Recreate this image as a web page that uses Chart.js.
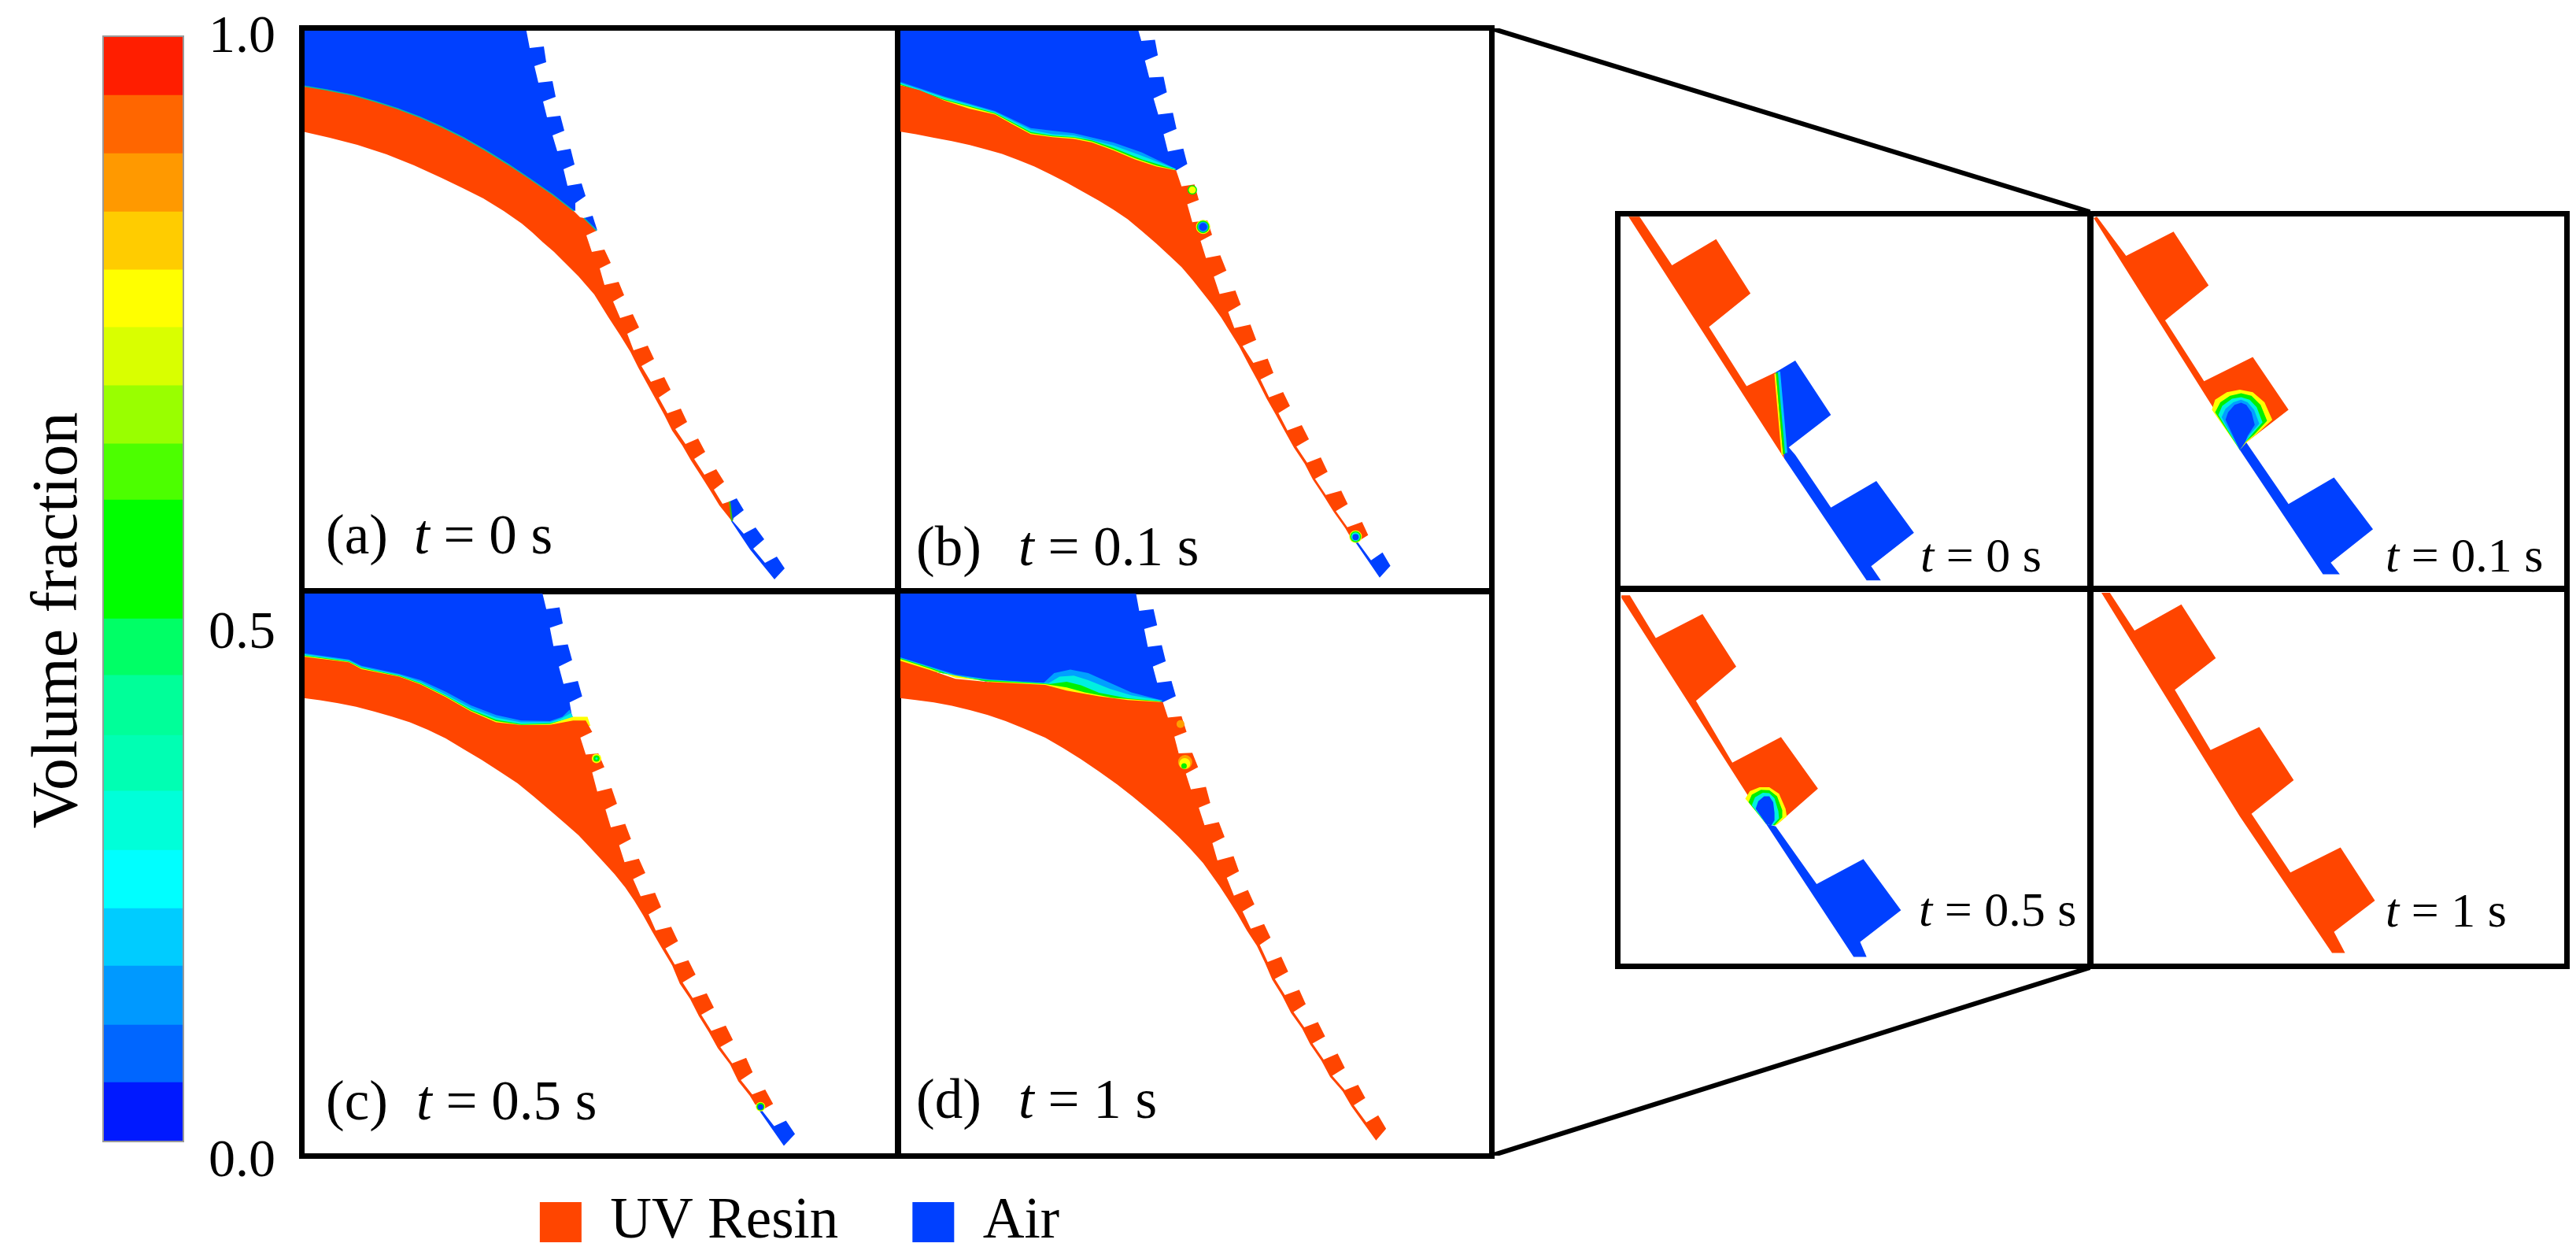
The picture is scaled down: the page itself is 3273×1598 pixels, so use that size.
<!DOCTYPE html>
<html>
<head>
<meta charset="utf-8">
<title>Volume fraction</title>
<script src="https://cdn.jsdelivr.net/npm/chart.js@4"></script>
<style>
  html, body { margin: 0; padding: 0; background: #fff; width: 3273px; height: 1598px; overflow: hidden; }
  canvas { position: absolute; }
  canvas.framed { outline: 7px solid #000; outline-offset: -3.5px; }
</style>
</head>
<body>
<script>
const RESIN = '#FF4500', AIR = '#0040FF';
const LIGHTBLUE = '#00A0FF', CYAN = '#00F0E0', GREEN = '#00F000', YELLOW = '#FFFF00', ORANGE = '#FFA000';
const SERIF = '"Liberation Serif", "Times New Roman", serif';

// Colour bar
const bandEdges = [0, .0534, .1054, .1588, .2108, .2635, .3170, .3675, .4217, .4729, .5264, .5805, .6311, .6838, .7365, .7885, .8412, .8939, .9466, 1];
const bandColors = ['#0019FF', '#0066FF', '#0099FF', '#00CCFF', '#00FFFF', '#00FFD9', '#00FFB3', '#00FF99', '#00FF66', '#00FF00',
  '#00FF00', '#4CFF00', '#99FF00', '#D9FF00', '#FFFF00', '#FFCC00', '#FF9900', '#FF6600', '#FF1E00'];
const tickValues = [0, 0.5, 1];
const tickLabels = ['0.0', '0.5', '1.0'];
const tickNudge = [44, 75, 20]; // labels sit off their level in the figure

// Legend
const legendNames = ['UV Resin', 'Air'];
const legendColors = [RESIN, AIR];

// Zoom connector lines
const connectorTop = [[0, 0], [1, 0.163]];
const connectorBottom = [[0, 1], [1, 0.833]];

// Panel labels
const panelTags = ['(a)', '(b)', '(c)', '(d)'];
const panelTimes = ['0', '0.1', '0.5', '1'];
const insetTimes = ['0', '0.1', '0.5', '1'];

// Panel (a), outlines read in panel pixels
const aAir = [[0,0],[284,0],[285,4],[289,25],[307,23],[310,43],[295,48],[300,69],[318,67],[322,87],[306,93],[311,113],[328,111],[333,130],[318,136],[324,156],[341,153],[346,173],[332,179],[337,200],[355,197],[360,213],[347,222],[347,232],[300,215],[233,170],[121,120],[0,90]];
const aAirTooth = [[358,241],[369,238],[375,257]];
const aResin = [[0,73],[30,78],[65,85],[93,93],[121,102],[150,113],[177,125],[205,139],[233,155],[262,173],[289,191],[318,211],[345,232],[353,240],[358,241],[374,257],[361,263],[368,284],[384,281],[392,298],[378,305],[384,326],[402,322],[409,339],[395,347],[404,368],[420,363],[428,380],[413,388],[421,409],[439,403],[447,420],[431,429],[443,449],[460,443],[468,459],[453,469],[464,489],[481,483],[489,500],[474,509],[487,528],[503,521],[512,538],[498,547],[511,567],[526,560],[536,576],[523,586],[534,604],[543,601],[546,626],[530,606],[519,588],[507,569],[494,549],[483,530],[470,511],[460,491],[449,471],[438,451],[427,431],[417,411],[404,390],[389,367],[371,338],[351,315],[333,297],[320,284],[306,272],[292,259],[279,248],[256,232],[230,216],[204,203],[177,190],[142,174],[107,160],[70,148],[35,139],[0,131]];
const aAirEnd = [[543,601],[552,597],[561,612],[548,622],[547,626],[548,627],[561,642],[576,634],[587,649],[573,661],[588,679],[603,671],[613,686],[600,700],[569,662],[545,626]];
const aLine = [[0,73],[30,78],[65,85],[93,93],[121,102],[150,113],[177,125],[205,139],[233,155],[262,173],[289,191],[318,211],[345,232]];
const aLine2 = [[358,241],[374,257]];
const aLine3 = [[543,601],[546,626]];

// Panel (b), outlines in grid units
const bAir = [[0,0],[668,0],[678,35],[716,32],[724,75],[688,90],[700,137],[740,135],[749,178],[712,195],[725,240],[766,235],[776,280],[740,295],[752,343],[795,335],[806,378],[775,396],[700,400],[400,330],[0,170]];
const bLightBlue = [[0,147],[130,190],[270,230],[370,278],[490,292],[600,318],[680,346],[775,392],[700,400],[400,330],[0,170]];
const bCyan = [[0,150],[130,193],[270,233],[370,283],[430,295],[490,298],[600,326],[680,355],[775,392],[700,400],[400,330],[0,170]];
const bGreen = [[0,153],[130,198],[270,236],[370,289],[430,299],[490,303],[540,312],[600,333],[680,365],[775,394],[700,400],[400,330],[0,170]];
const bYellow = [[0,155],[130,200],[270,238],[370,292],[430,301],[490,305],[540,315],[600,337],[660,362],[720,382],[775,395],[700,400],[400,330],[0,170]];
const bResin = [[0,157],[60,172],[130,202],[200,224],[270,240],[320,268],[370,295],[430,303],[490,308],[540,318],[600,340],[660,365],[720,385],[775,396],[790,440],[826,435],[838,478],[806,490],[820,540],[862,535],[875,575],[843,592],[858,640],[898,632],[915,675],[880,692],[896,740],[940,730],[955,770],[920,790],[937,835],[982,825],[998,868],[960,885],[990,932],[1030,920],[1046,960],[1010,978],[1034,1028],[1073,1013],[1092,1052],[1060,1072],[1085,1120],[1125,1105],[1145,1145],[1110,1165],[1140,1210],[1178,1195],[1197,1235],[1162,1255],[1192,1300],[1235,1288],[1253,1325],[1220,1345],[1252,1390],[1293,1375],[1310,1412],[1283,1428],[1265,1425],[1246,1392],[1214,1347],[1186,1302],[1156,1257],[1133,1213],[1103,1168],[1078,1123],[1052,1075],[1027,1031],[1002,982],[978,938],[950,885],[925,845],[900,805],[875,770],[850,738],[820,700],[790,665],[755,632],[720,600],[680,565],[640,532],[600,505],[560,480],[515,455],[470,430],[425,407],[380,385],[335,367],[290,350],[245,337],[200,325],[150,314],[100,305],[50,295],[0,287]];
const bAirEnd = [[1268,1422],[1280,1430],[1318,1482],[1350,1460],[1372,1497],[1342,1530]];

// Panel (c), outlines in grid units
const cAir = [[0,0],[668,0],[680,50],[717,45],[726,90],[690,102],[700,153],[740,148],[752,192],[715,210],[728,258],[768,250],[780,293],[745,310],[752,350],[690,395],[400,350],[0,200]];
const cLightBlue = [[0,172],[130,190],[165,208],[270,230],[330,248],[400,280],[470,318],[540,345],[610,360],[690,362],[725,350],[745,330],[755,352],[690,395],[400,350],[0,200]];
const cCyan = [[0,175],[130,193],[165,211],[270,233],[330,253],[400,288],[470,325],[540,352],[610,365],[690,365],[720,355],[748,340],[755,352],[690,395],[400,350],[0,200]];
const cGreen = [[0,178],[130,195],[165,213],[270,235],[330,256],[400,291],[470,330],[540,358],[610,370],[690,368],[755,352],[690,395],[400,350],[0,200]];
const cYellow = [[0,180],[130,197],[165,215],[270,237],[330,258],[400,293],[470,333],[540,362],[610,372],[690,370],[755,350],[795,350],[803,375],[690,395],[400,350],[0,200]];
const cResin = [[0,182],[130,198],[165,217],[270,238],[330,260],[400,295],[470,335],[540,365],[610,373],[690,372],[755,360],[790,360],[808,392],[775,408],[790,455],[825,452],[842,490],[808,505],[822,558],[862,548],[877,592],[845,608],[860,658],[900,648],[916,690],[883,708],[898,755],[938,745],[956,785],[922,802],[943,850],[983,840],[1000,880],[965,900],[985,945],[1028,935],[1047,975],[1012,995],[1038,1040],[1076,1028],[1096,1068],[1060,1090],[1088,1133],[1127,1120],[1147,1160],[1112,1180],[1140,1225],[1180,1210],[1200,1250],[1165,1270],[1198,1315],[1237,1300],[1255,1340],[1222,1362],[1254,1402],[1290,1388],[1312,1428],[1290,1440],[1262,1430],[1247,1405],[1215,1365],[1192,1318],[1158,1273],[1133,1228],[1105,1183],[1081,1136],[1052,1093],[1031,1043],[1004,998],[975,948],[950,903],[925,862],[900,825],[870,788],[840,755],[805,717],[770,680],[730,645],[690,610],[645,572],[600,535],[550,502],[500,470],[450,440],[400,410],[350,386],[300,365],[250,349],[200,335],[150,322],[100,312],[50,304],[0,297]];
const cAirEnd = [[1268,1430],[1315,1490],[1348,1475],[1373,1512],[1342,1545],[1265,1435]];

// Panel (d), outlines in grid units
const dAir = [[0,0],[662,0],[672,55],[712,50],[722,95],[686,105],[696,155],[735,150],[746,195],[710,210],[722,255],[762,250],[774,292],[738,309],[640,320],[400,280],[0,205]];
const dLightBlue = [[0,182],[90,210],[160,232],[250,245],[405,256],[435,228],[480,218],[530,228],[590,255],[650,282],[738,305],[640,320],[400,280],[0,205]];
const dCyan = [[0,184],[90,212],[160,235],[250,247],[420,256],[450,238],[490,235],[530,248],[590,272],[650,290],[738,305],[640,320],[400,280],[0,205]];
const dGreen = [[0,185],[90,213],[160,238],[250,248],[425,258],[470,252],[510,262],[560,283],[640,298],[738,307],[640,320],[400,280],[0,205]];
const dYellow = [[0,187],[90,216],[160,241],[250,251],[410,259],[470,268],[520,282],[600,297],[738,308],[640,320],[400,280],[0,205]];
const dResin = [[0,192],[90,220],[160,244],[250,253],[410,261],[470,277],[560,293],[640,303],[738,309],[752,352],[790,348],[804,392],[770,405],[782,452],[820,450],[836,490],[802,508],[816,552],[858,545],[870,590],[838,603],[854,652],[894,643],[910,685],[876,702],[890,750],[935,738],[950,780],[916,798],[936,848],[975,832],[993,872],[960,892],[983,940],[1020,927],[1038,965],[1008,985],[1030,1033],[1068,1018],[1087,1060],[1050,1080],[1078,1125],[1118,1110],[1136,1150],[1102,1172],[1132,1215],[1170,1200],[1190,1240],[1155,1260],[1186,1305],[1225,1288],[1245,1328],[1210,1350],[1245,1390],[1282,1375],[1302,1412],[1270,1432],[1305,1480],[1338,1460],[1360,1497],[1332,1530],[1298,1483],[1264,1436],[1239,1393],[1204,1353],[1180,1308],[1149,1263],[1126,1218],[1095,1175],[1071,1128],[1043,1083],[1023,1036],[1000,988],[972,945],[945,898],[918,855],[895,820],[870,785],[850,757],[815,718],[780,682],[740,645],[700,610],[655,573],[610,538],[560,502],[510,468],[460,437],[410,408],[350,382],[300,362],[250,345],[200,331],[150,319],[100,310],[50,303],[0,297]];

// Small trapped bubbles: x, y, radius in px
const bBubbles = [
  [[820,450,6,GREEN],[820,450,4.5,YELLOW]],
  [[850,553,9,YELLOW],[850,553,8,GREEN],[850,553,6.5,LIGHTBLUE],[850,553,5,AIR]],
  [[1275,1416,8,YELLOW],[1275,1416,7,GREEN],[1275,1416,5.5,CYAN],[1275,1417,4,AIR]]
];
const cBubbles = [
  [[820,466,6,YELLOW],[820,466,4,GREEN],[820,466,1.5,CYAN]],
  [[1277,1436,6,YELLOW],[1277,1436,5,GREEN],[1277,1437,3.5,AIR]]
];
const dBubbles = [
  [[787,370,5,ORANGE]],
  [[800,476,9,ORANGE],[799,480,7,YELLOW],[797,487,3.5,GREEN]]
];

// Inset panels, outlines in one shared grid
const i1Resin = [[108,55],[125,55],[175,152],[243,100],[296,208],[232,275],[290,393],[335,365],[345,490],[348,537]];
const i1Air = [[335,365],[365,342],[420,450],[355,515],[365,530],[420,635],[490,582],[548,685],[482,752],[497,780],[475,780],[348,537],[345,490]];
const i1Yellow = [[334,368],[345,530]];
const i1Green = [[337,366],[348,528]];
const i1Cyan = [[340,364],[351,526]];
const i2Resin = [[830,55],[875,133],[948,85],[1002,192],[935,262],[995,383],[1070,335],[1125,440],[1060,505],[1050,520],[825,58]];
const i2Air = [[1050,520],[1060,505],[1125,628],[1195,575],[1255,678],[1190,745],[1204,768],[1178,768]];
const i2Yellow = [[1007,440],[1012,420],[1030,405],[1050,400],[1070,405],[1088,425],[1100,460],[1075,490],[1060,505],[1050,520]];
const i2Green = [[1012,445],[1020,425],[1035,412],[1052,407],[1068,412],[1082,430],[1092,462],[1072,490],[1058,505],[1050,520]];
const i2Cyan = [[1017,450],[1023,432],[1038,418],[1052,415],[1065,420],[1076,435],[1085,465],[1070,487],[1058,505],[1050,520]];
const i2LightBlue = [[1022,455],[1028,438],[1040,425],[1052,420],[1062,425],[1072,440],[1080,468],[1065,490],[1058,505],[1050,520]];
const i2Blue = [[1028,460],[1032,445],[1042,430],[1052,426],[1060,430],[1068,445],[1073,470],[1062,492],[1058,505],[1050,520]];
const i3Resin = [[97,810],[110,810],[150,895],[222,847],[274,952],[212,1020],[268,1143],[343,1092],[400,1195],[338,1265],[320,1265],[97,815]];
const i3Air = [[320,1265],[335,1270],[398,1385],[470,1335],[528,1437],[465,1500],[475,1530],[455,1530]];
const i3Yellow = [[288,1215],[295,1200],[310,1192],[325,1192],[340,1205],[350,1235],[352,1250],[335,1268],[320,1265]];
const i3Green = [[293,1222],[298,1207],[312,1197],[325,1198],[337,1210],[345,1238],[345,1252],[333,1268],[320,1265]];
const i3Cyan = [[298,1228],[303,1212],[315,1203],[325,1204],[333,1214],[339,1240],[340,1254],[330,1268],[320,1265]];
const i3Blue = [[304,1235],[308,1220],[317,1210],[325,1210],[331,1222],[333,1243],[333,1258],[328,1268],[320,1265]];
const i4Resin = [[837,805],[850,805],[888,880],[960,828],[1013,935],[950,998],[1005,1118],[1080,1072],[1133,1178],[1068,1245],[1128,1362],[1205,1312],[1258,1418],[1195,1480],[1212,1522],[1192,1522],[1050,1250]];

const toXY = pts => pts.map(p => ({ x: p[0], y: p[1] }));

function shape(pts, color) {
  return { data: toXY(pts), showLine: true, fill: 'shape', tension: 0, backgroundColor: color, borderWidth: 0, pointRadius: 0 };
}
function trace(pts, color, width) {
  return { data: toXY(pts), showLine: true, fill: false, tension: 0, borderColor: color, borderWidth: width, pointRadius: 0 };
}
function bubble(b) {
  return { data: [{ x: b[0], y: b[1] }], showLine: false, pointRadius: b[2], pointBackgroundColor: b[3], pointBorderWidth: 0 };
}

function addCanvas(box, framed) {
  const c = document.createElement('canvas');
  c.width = box[2]; c.height = box[3];
  c.style.left = box[0] + 'px'; c.style.top = box[1] + 'px';
  c.style.width = box[2] + 'px'; c.style.height = box[3] + 'px';
  if (framed) c.className = 'framed';
  document.body.appendChild(c);
  return c;
}

// Mixed upright/italic label written on the panel canvas
function timeLabel(tag, tagX, tX, y, time, size) {
  return {
    id: 'timeLabel',
    afterDraw(chart) {
      const ctx = chart.ctx;
      ctx.save();
      ctx.fillStyle = '#000';
      ctx.textBaseline = 'alphabetic';
      ctx.font = size + 'px ' + SERIF;
      if (tag) ctx.fillText(tag, tagX, y);
      ctx.font = 'italic ' + size + 'px ' + SERIF;
      ctx.fillText('t', tX, y);
      const w = ctx.measureText('t').width;
      ctx.font = size + 'px ' + SERIF;
      ctx.fillText(' = ' + time + ' s', tX + w, y);
      ctx.restore();
    }
  };
}

function panel(box, xr, yr, datasets, label) {
  new Chart(addCanvas(box, true), {
    type: 'scatter',
    data: { datasets: datasets.slice().reverse() }, // first listed is painted first
    options: {
      responsive: false, animation: false, devicePixelRatio: 1,
      layout: { padding: 0, autoPadding: false },
      plugins: { legend: { display: false }, tooltip: { enabled: false } },
      scales: {
        x: { type: 'linear', display: false, min: xr[0], max: xr[1] },
        y: { type: 'linear', display: false, min: yr[0], max: yr[1], reverse: true }
      }
    },
    plugins: [label]
  });
}

const U = 2.193; // grid units per pixel in panels b, c, d

window.onload = function () {
  // colour bar
  const barData = bandColors.map((col, i) => ({
    data: [[bandEdges[i], bandEdges[i + 1]]], backgroundColor: col, grouped: false,
    barPercentage: 1, categoryPercentage: 1, borderWidth: 0
  }));
  new Chart(addCanvas([0, 0, 380, 1598], false), {
    type: 'bar',
    data: { labels: ['Volume fraction'], datasets: barData },
    options: {
      responsive: false, animation: false, devicePixelRatio: 1,
      layout: { padding: { left: 131, right: 147, top: 46, bottom: 148 } },
      plugins: { legend: { display: false }, tooltip: { enabled: false } },
      scales: { x: { display: false }, y: { display: false, min: 0, max: 1 } }
    },
    plugins: [{
      id: 'barText',
      afterDraw(chart) {
        const ctx = chart.ctx, a = chart.chartArea, sy = chart.scales.y;
        ctx.save();
        ctx.strokeStyle = '#999'; ctx.lineWidth = 2;
        ctx.strokeRect(a.left, a.top, a.right - a.left, a.bottom - a.top);
        ctx.fillStyle = '#000';
        ctx.font = '68px ' + SERIF;
        tickValues.forEach((v, i) => ctx.fillText(tickLabels[i], 265, sy.getPixelForValue(v) + tickNudge[i]));
        ctx.translate(97, 788);
        ctx.rotate(-Math.PI / 2);
        ctx.textAlign = 'center';
        ctx.font = '82px ' + SERIF;
        ctx.fillText('Volume fraction', 0, 0);
        ctx.restore();
      }
    }]
  });

  // main panels
  panel([384, 36, 757, 715], [0, 757], [0, 715],
    [shape(aAir, AIR), shape(aAirTooth, AIR), shape(aResin, RESIN), shape(aAirEnd, AIR),
     trace(aLine, '#00C0A0', 1.5), trace(aLine2, '#00C0A0', 1.5), trace(aLine3, '#40C000', 2)],
    timeLabel(panelTags[0], 30, 142, 667, panelTimes[0], 71));
  panel([1141, 36, 754, 715], [0, 754 * U], [0, 715 * U],
    [shape(bAir, AIR), shape(bLightBlue, LIGHTBLUE), shape(bCyan, CYAN), shape(bGreen, GREEN), shape(bYellow, YELLOW),
     shape(bResin, RESIN), shape(bAirEnd, AIR)].concat(bBubbles.flat().map(bubble)),
    timeLabel(panelTags[1], 23, 153, 682, panelTimes[1], 71));
  panel([384, 751, 757, 717], [0, 757 * U], [0, 717 * U],
    [shape(cAir, AIR), shape(cLightBlue, LIGHTBLUE), shape(cCyan, CYAN), shape(cGreen, GREEN), shape(cYellow, YELLOW),
     shape(cResin, RESIN), shape(cAirEnd, AIR)].concat(cBubbles.flat().map(bubble)),
    timeLabel(panelTags[2], 30, 145, 671, panelTimes[2], 71));
  panel([1141, 751, 754, 717], [0, 754 * U], [0, 717 * U],
    [shape(dAir, AIR), shape(dLightBlue, LIGHTBLUE), shape(dCyan, CYAN), shape(dGreen, GREEN), shape(dYellow, YELLOW),
     shape(dResin, RESIN)].concat(dBubbles.flat().map(bubble)),
    timeLabel(panelTags[3], 23, 153, 669, panelTimes[3], 71));

  // inset panels
  panel([2056, 272, 600, 476], [92, 820], [50, 797],
    [shape(i1Resin, RESIN), shape(i1Air, AIR), trace(i1Yellow, YELLOW, 2), trace(i1Green, GREEN, 3), trace(i1Cyan, '#00C8FF', 3)],
    timeLabel('', 0, 384, 454, insetTimes[0], 62));
  panel([2656, 272, 605, 476], [820, 1553], [50, 797],
    [shape(i2Resin, RESIN), shape(i2Air, AIR), shape(i2Yellow, YELLOW), shape(i2Green, GREEN), shape(i2Cyan, CYAN),
     shape(i2LightBlue, LIGHTBLUE), shape(i2Blue, AIR)],
    timeLabel('', 0, 375, 454, insetTimes[1], 62));
  panel([2056, 748, 600, 479], [92, 820], [797, 1548],
    [shape(i3Resin, RESIN), shape(i3Air, AIR), shape(i3Yellow, YELLOW), shape(i3Green, GREEN), shape(i3Cyan, CYAN), shape(i3Blue, AIR)],
    timeLabel('', 0, 382, 428, insetTimes[2], 62));
  panel([2656, 748, 605, 479], [820, 1553], [797, 1548],
    [shape(i4Resin, RESIN)],
    timeLabel('', 0, 375, 429, insetTimes[3], 62));

  // connector lines
  new Chart(addCanvas([1895, 36, 761, 1432], false), {
    type: 'scatter',
    data: { datasets: [trace(connectorTop, '#000', 6), trace(connectorBottom, '#000', 6)] },
    options: {
      responsive: false, animation: false, devicePixelRatio: 1,
      layout: { autoPadding: false },
      plugins: { legend: { display: false }, tooltip: { enabled: false } },
      scales: {
        x: { type: 'linear', display: false, min: 0, max: 1 },
        y: { type: 'linear', display: false, min: 0, max: 1, reverse: true }
      }
    }
  });

  // legend
  new Chart(addCanvas([416, 1422, 1200, 600], false), {
    type: 'bar',
    data: {
      labels: [],
      datasets: legendNames.map((n, i) => ({ label: n, data: [], backgroundColor: legendColors[i], borderWidth: 0 }))
    },
    options: {
      responsive: false, animation: false, devicePixelRatio: 1,
      plugins: {
        tooltip: { enabled: false },
        legend: {
          position: 'top',
          labels: { boxWidth: 53, boxHeight: 51, padding: 94, color: '#000', font: { family: SERIF, size: 73 } }
        }
      },
      scales: { x: { display: false }, y: { display: false } }
    }
  });
};
</script>
</body>
</html>
